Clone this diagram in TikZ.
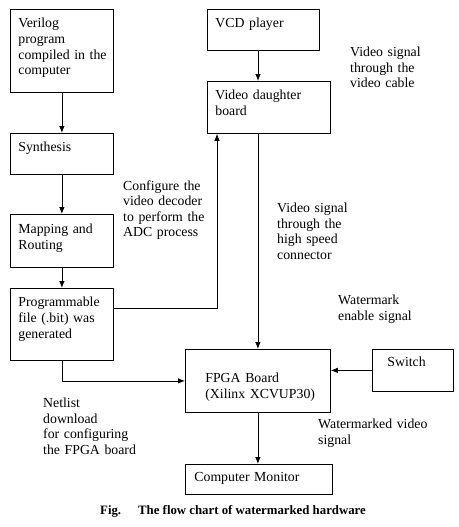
\documentclass[tikz,border=0pt]{standalone}
\usepackage{fontspec}
\setmainfont{Liberation Serif}
\usepackage{tikz}
\usetikzlibrary{arrows.meta, positioning}

\begin{document}
\begin{tikzpicture}[x=1pt, y=-1pt, font=\fontsize{13.8}{15.6}\selectfont]
\tikzstyle{block} = [rectangle, draw=black, line width=0.8pt, anchor=north west, align=left, inner xsep=8pt, inner ysep=0pt, text height=18.5pt]
\tikzstyle{note} = [anchor=base west, inner sep=0pt, align=left, text width=120pt]
\tikzstyle{arrow} = [line width=0.8pt, ->, >={Latex[length=7pt,width=5.5pt]}]

\useasboundingbox (0,0) rectangle (458,527);

% left column: design flow
\node (verilog) [block, text width=87pt, text depth=64.5pt] at (10,9) {Verilog\\program\\compiled~in~the\\computer};
\node (synth) [block, text width=87pt, text depth=22.5pt] at (10,133) {Synthesis};
\node (mapping) [block, text width=87pt, text height=19.5pt, text depth=33.5pt] at (10,214) {Mapping and\\Routing};
\node (progfile) [block, text width=87pt, text depth=53.5pt] at (10,288) {Programmable\\file (.bit) was\\generated};

% right column: video path
\node (vcd) [block, text width=96pt, text depth=22.5pt] at (207,9) {VCD player};
\node (daughter) [block, text width=107pt, text depth=33.5pt] at (207,81) {Video daughter\\board};
\node (fpga) [block, inner xsep=20pt, text width=105pt, text height=33.5pt, text depth=29.5pt] at (185,349) {FPGA Board\\(Xilinx~XCVUP30)};
\node (switch) [block, inner xsep=15pt, text width=51pt, text height=17.5pt, text depth=24.5pt] at (372,349) {Switch};
\node (monitor) [block, inner xsep=9pt, text width=129pt, text height=17pt, text depth=13pt] at (185,464) {Computer Monitor};

\coordinate (spine) at (258,0);
\coordinate (cfg) at (217,308);

\draw [arrow] (verilog) -- (synth);
\draw [arrow] (synth) -- (mapping);
\draw [arrow] (mapping) -- (progfile);
\draw [arrow] (vcd.south -| spine) -- (daughter.north -| spine);
\draw [arrow] (fpga.north |- daughter.south) -- (fpga.north);
\draw [arrow] (fpga.south) -- (fpga.south |- monitor.north);
\draw [arrow] (progfile.east |- cfg) -- (cfg) -- (cfg |- daughter.south);
\draw [arrow] (progfile.south) |- (fpga.west);
\draw [arrow] (switch.west) -- (switch.west -| fpga.east);

% signal notes
\node (cfgnote) [note] at (123,190) {Configure the\\video decoder\\to perform the\\ADC process};
\node (cablenote) [note] at (350,56.5) {Video signal\\through the\\video cable};
\node (hsnote) [note] at (277,212.5) {Video signal\\through the\\high speed\\connector};
\node (wmnote) [note] at (338,304.5) {Watermark\\enable signal};
\node (outnote) [note] at (318,428.5) {Watermarked video\\signal};
\node (netnote) [note, text height=10pt] at (43,407.5) {Netlist\\download\\for configuring\\the FPGA board};

\node (caption) [anchor=base west, inner sep=0pt, font=\fontsize{12.8}{15}\selectfont\bfseries] at (100,514.5) {\makebox[38pt][l]{Fig.}The flow chart of watermarked hardware};
\end{tikzpicture}
\end{document}
